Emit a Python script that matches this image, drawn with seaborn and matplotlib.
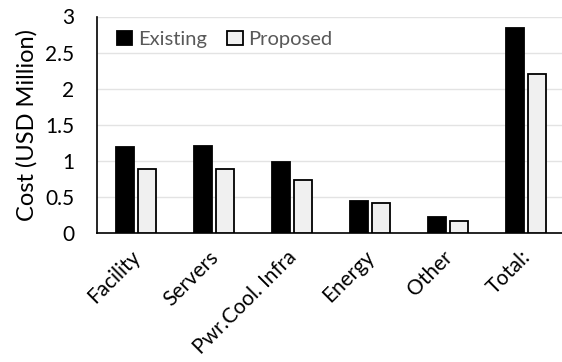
import matplotlib
matplotlib.use("Agg")
import matplotlib.pyplot as plt
import matplotlib.transforms as mtransforms
import seaborn as sns
import pandas as pd

# Cost breakdown (USD million)
categories = ["Facility", "Servers", "Pwr.Cool. Infra", "Energy", "Other", "Total:"]
existing = [1.19, 1.20, 0.98, 0.45, 0.22, 2.84]
proposed = [0.89, 0.89, 0.74, 0.42, 0.17, 2.21]
series = ["Existing", "Proposed"]

df = pd.DataFrame({
    "category": categories * 2,
    "cost": existing + proposed,
    "scenario": [series[0]] * len(categories) + [series[1]] * len(categories),
})

sns.set_style("white")
plt.rcParams["font.family"] = ["Lato", "DejaVu Sans"]

fig = plt.figure(figsize=(5.62, 3.62), dpi=100)
ax = fig.add_axes([97 / 562, 1 - 233 / 362, 468 / 562, 216.5 / 362])

sns.barplot(
    data=df, x="category", y="cost", hue="scenario",
    palette={"Existing": "#000000", "Proposed": "#f0f0f0"},
    width=0.572, gap=0.2, edgecolor="black", linewidth=1.3,
    ax=ax, zorder=3,
)

ax.set_ylim(0, 3)
ax.set_xlim(-0.5, len(categories) - 0.5)
ax.set_yticks([0, 0.5, 1, 1.5, 2, 2.5, 3])
ax.set_yticklabels(["0", "0.5", "1", "1.5", "2", "2.5", "3"])
ax.yaxis.grid(True, color="#e3e3e3", linewidth=1.0, zorder=0)
ax.set_axisbelow(True)

for side in ["top", "right"]:
    ax.spines[side].set_visible(False)
for side in ["left", "bottom"]:
    ax.spines[side].set_color("black")
    ax.spines[side].set_linewidth(1.2)

ax.set_xlabel("")
ax.set_ylabel("Cost (USD Million)", fontsize=17, color="black", labelpad=5)
ax.tick_params(axis="y", length=0, pad=16.5, labelsize=15, colors="black")
ax.tick_params(axis="x", length=0, pad=15, labelsize=15, colors="black")
shift = mtransforms.ScaledTranslation(1 / 100, 0, fig.dpi_scale_trans)
for lbl in ax.get_xticklabels():
    lbl.set_rotation(45)
    lbl.set_ha("right")
    lbl.set_va("center")
    lbl.set_rotation_mode("anchor")
    lbl.set_transform(lbl.get_transform() + shift)

handles, labels = ax.get_legend_handles_labels()
leg = ax.legend(
    handles, labels, loc="upper left", bbox_to_anchor=(0.013, 1.0), ncol=2,
    frameon=False, fontsize=14.5, handlelength=0.75, handleheight=0.75,
    handletextpad=0.3, columnspacing=1.0, borderaxespad=0.3,
)
for txt in leg.get_texts():
    txt.set_color("#595959")

fig.savefig("out.png", dpi=100)
